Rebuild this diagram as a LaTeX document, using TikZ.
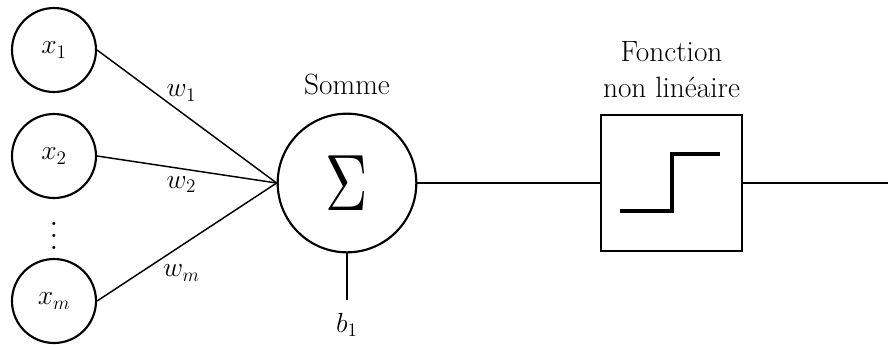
\documentclass[tikz,border=0pt]{standalone}
\usetikzlibrary{positioning}

\begin{document}
\begin{tikzpicture}[x=0.75pt, y=-0.75pt,
    entree/.style={circle, draw, line width=1.6pt, minimum size=63pt, inner sep=0pt, font=\fontsize{22}{26}\selectfont},
    sommateur/.style={circle, draw, line width=1.6pt, minimum size=104pt, inner sep=0pt},
    bloc/.style={rectangle, draw, line width=1.7pt, minimum width=105.75pt, minimum height=102pt},
    etiq/.style={inner sep=2pt, font=\fontsize{22}{27}\selectfont, align=center},
    lien/.style={line width=1.1pt}]

    \useasboundingbox (0,0) rectangle (888,344);

    % Entrees
    \node[entree] (x1) at (54,50) {$x_1$};
    \node[entree] (x2) at (54,156) {$x_2$};
    \node[scale=2.2] (dots) at (54,227) {$\vdots$};
    \node[entree] (xm) at (54,301) {$x_m$};

    % Somme
    \node[sommateur] (sum) at (347,183) {\scalebox{4.4}[6]{$\Sigma$}};
    \node[etiq, above=11pt of sum] (lsum) {Somme};
    \coordinate (biais) at (347,300);
    \node[etiq, below=8pt of biais] (b1) {$b_1$};

    % Fonction non lineaire
    \node[bloc] (act) at (671.5,183) {};
    \node[etiq, above=10pt of act] (lact) {Fonction\\non linéaire};
    \draw[line width=3pt] (620,211) -- (672,211) -- (672,154) -- (720,154);
    \coordinate (sortie) at (888,183);

    % Liens
    \draw[lien] (x1.east) -- node[etiq, pos=0.47, above=6pt] {$w_1$} (sum.west);
    \draw[lien] (x2.east) -- node[etiq, pos=0.47, below=3pt] {$w_2$} (sum.west);
    \draw[lien] (xm.east) -- node[etiq, pos=0.47, below=12pt] {$w_m$} (sum.west);
    \draw[lien] (sum.south) -- (biais);
    \draw[lien] (sum.east) -- (act.west);
    \draw[lien] (act.east) -- (sortie);
\end{tikzpicture}
\end{document}
